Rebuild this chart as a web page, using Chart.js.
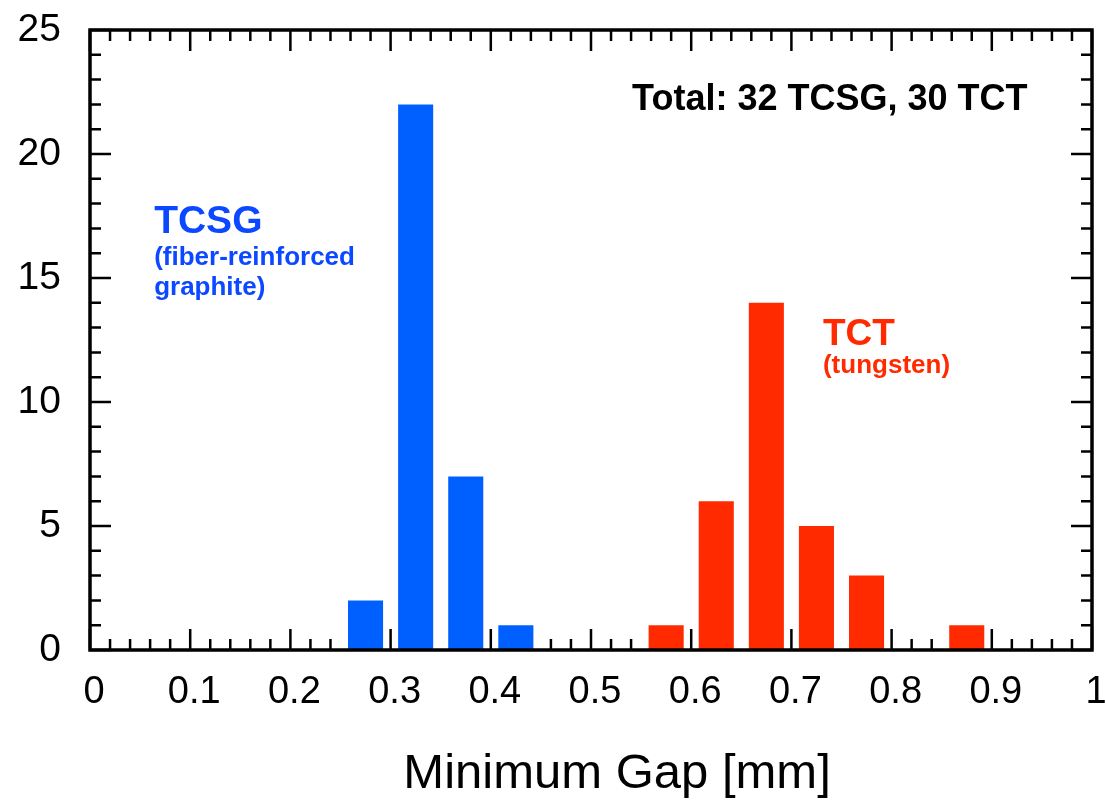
<!DOCTYPE html>
<html>
<head>
<meta charset="utf-8">
<script src="https://cdn.jsdelivr.net/npm/chart.js@4"></script>
<style>
  body { margin: 0; background: #fff; }
  #wrap { width: 1105px; height: 801px; }
</style>
</head>
<body>
<div id="wrap"><canvas id="gapChart"></canvas></div>
<script>
// bin centres in mm (0.05 mm bins) and number of collimators per bin
const tcsgGaps = [0.275, 0.325, 0.375, 0.425];
const tcsgCounts = [2, 22, 7, 1];
const tctGaps = [0.575, 0.625, 0.675, 0.725, 0.775, 0.875];
const tctCounts = [1, 6, 14, 5, 3, 1];

const xTickLabels = ['0', '0.1', '0.2', '0.3', '0.4', '0.5', '0.6', '0.7', '0.8', '0.9', '1'];
const yTickLabels = ['0', '5', '10', '15', '20', '25'];

const BLUE = '#0060ff';
const BLUE_TEXT = '#0c48ff';
const RED = '#ff2a00';
const FONT = "'Liberation Sans', Arial, Helvetica, sans-serif";

// text labels placed in data coordinates (x in mm, y in counts, left / baseline)
const notes = [
    { text: 'Total: 32 TCSG, 30 TCT', x: 0.541, y: 21.77, size: 36, color: '#000' },
    { text: 'TCSG', x: 0.064, y: 16.81, size: 39, color: BLUE_TEXT },
    { text: '(fiber-reinforced', x: 0.064, y: 15.52, size: 26, color: BLUE_TEXT },
    { text: 'graphite)', x: 0.064, y: 14.3, size: 26, color: BLUE_TEXT },
    { text: 'TCT', x: 0.7315, y: 12.3, size: 37, color: RED },
    { text: '(tungsten)', x: 0.7315, y: 11.17, size: 26, color: RED }
];

// inward tick marks on all four sides, a heavy frame and the text
const frameTicks = {
    id: 'frameTicks',
    beforeDatasetsDraw(chart) {
        const { ctx, chartArea: a, scales: { x, y } } = chart;
        ctx.save();
        ctx.strokeStyle = '#000';
        ctx.lineWidth = 2.5;
        ctx.beginPath();
        for (let i = 0; i <= 50; i++) {
            const px = x.getPixelForValue(i / 50);
            const len = i % 5 === 0 ? 21 : 11;
            ctx.moveTo(px, a.bottom); ctx.lineTo(px, a.bottom - len);
            ctx.moveTo(px, a.top); ctx.lineTo(px, a.top + len);
        }
        for (let j = 0; j <= 25; j++) {
            const py = y.getPixelForValue(j);
            const len = j % 5 === 0 ? 21 : 11;
            ctx.moveTo(a.left, py); ctx.lineTo(a.left + len, py);
            ctx.moveTo(a.right, py); ctx.lineTo(a.right - len, py);
        }
        ctx.stroke();
        ctx.restore();
    },
    afterDatasetsDraw(chart) {
        const { ctx, chartArea: a, scales: { x, y } } = chart;
        ctx.save();
        ctx.strokeStyle = '#000';
        ctx.lineWidth = 3.5;
        ctx.strokeRect(a.left, a.top, a.right - a.left, a.bottom - a.top);

        ctx.textAlign = 'left';
        ctx.textBaseline = 'alphabetic';
        notes.forEach(n => {
            ctx.font = 'bold ' + n.size + 'px ' + FONT;
            ctx.fillStyle = n.color;
            ctx.fillText(n.text, x.getPixelForValue(n.x), y.getPixelForValue(n.y));
        });

        // axis title
        ctx.font = '49px ' + FONT;
        ctx.fillStyle = '#000';
        ctx.textAlign = 'center';
        ctx.fillText('Minimum Gap [mm]', x.getPixelForValue(0.526), x.bottom - 13);
        ctx.restore();
    }
};

new Chart(document.getElementById('gapChart'), {
    type: 'bar',
    data: {
        datasets: [
            {
                label: 'TCSG',
                data: tcsgGaps.map((g, i) => ({ x: g, y: tcsgCounts[i] })),
                backgroundColor: BLUE,
                grouped: false,
                barPercentage: 0.7,
                categoryPercentage: 1
            },
            {
                label: 'TCT',
                data: tctGaps.map((g, i) => ({ x: g, y: tctCounts[i] })),
                backgroundColor: RED,
                grouped: false,
                barPercentage: 0.7,
                categoryPercentage: 1
            }
        ]
    },
    options: {
        responsive: true,
        maintainAspectRatio: false,
        animation: false,
        layout: { padding: { top: 30, right: 13 } },
        plugins: {
            legend: { display: false },
            tooltip: { enabled: false }
        },
        scales: {
            x: {
                type: 'linear',
                min: 0,
                max: 1,
                offset: false,
                grid: { display: false, offset: false },
                border: { display: false },
                ticks: {
                    stepSize: 0.1,
                    padding: 12,
                    labelOffset: 4,
                    maxRotation: 0,
                    autoSkip: false,
                    color: '#000',
                    font: { family: FONT, size: 38 },
                    callback: (v, i) => xTickLabels[i]
                },
                afterFit: s => {
                    s.height = 151;
                    s.paddingLeft = 0;
                    s.paddingRight = 0;
                }
            },
            y: {
                min: 0,
                max: 25,
                grid: { display: false },
                border: { display: false },
                ticks: {
                    stepSize: 5,
                    padding: 21,
                    color: '#000',
                    font: { family: FONT, size: 39 },
                    callback: (v, i) => yTickLabels[i]
                },
                afterFit: s => {
                    s.width = 90;
                    s.paddingTop = 0;
                    s.paddingBottom = 0;
                }
            }
        }
    },
    plugins: [frameTicks]
});
</script>
</body>
</html>
